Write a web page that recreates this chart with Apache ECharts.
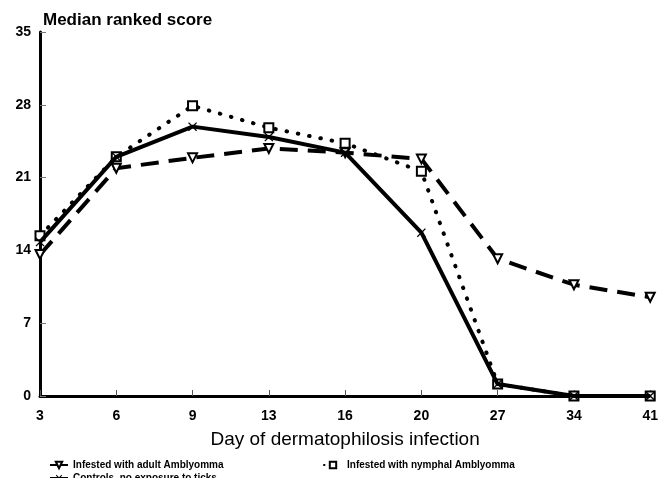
<!DOCTYPE html>
<html><head><meta charset="utf-8">
<script src="https://cdn.jsdelivr.net/npm/echarts@6/dist/echarts.min.js"></script>
<style>html,body{margin:0;padding:0;background:#fff}#c{width:661px;height:478px}</style>
</head><body><div id="c"></div>
<script>
const days = ['3','6','9','13','16','20','27','34','41'];
const adult = [13.6, 21.9, 22.9, 23.8, 23.4, 22.8, 13.2, 10.7, 9.5];
const nymphal = [15.4, 23.0, 27.9, 25.8, 24.3, 21.6, 1.15, 0, 0];
const controls = [14.8, 23.0, 25.9, 24.9, 23.4, 15.7, 1.15, 0, 0];
const yTicks = [0, 7, 14, 21, 28, 35];

const font = 'Liberation Sans, Arial, sans-serif';
const crossPath = 'path://M0,1 L1,0 L5,4 L9,0 L10,1 L6,5 L10,9 L9,10 L5,6 L1,10 L0,9 L4,5 Z';
const legText = {fontFamily: font, fontSize: 10, fontWeight: 'bold', color: '#000'};

const chart = echarts.init(document.getElementById('c'));
chart.setOption({
  animation: false,
  backgroundColor: '#fff',
  title: {
    text: 'Median ranked score', left: 38, top: 7,
    textStyle: {fontFamily: font, fontSize: 17, fontWeight: 'bold', color: '#000'}
  },
  grid: {left: 40, right: 10, top: 32, bottom: 82, containLabel: false},
  legend: [
    {data: ['Infested with adult Amblyomma'], left: 44, top: 455, itemWidth: 18, itemHeight: 8, itemGap: 2, textStyle: legText},
    {data: ['Controls, no exposure to ticks'], left: 44, top: 468, itemWidth: 18, itemHeight: 8, itemGap: 2, textStyle: legText},
    {data: ['Infested with nymphal Amblyomma'], left: 318, top: 455, itemWidth: 18, itemHeight: 8, itemGap: 2, textStyle: legText}
  ],
  xAxis: {
    type: 'category', data: days, boundaryGap: false,
    name: 'Day of dermatophilosis infection', nameLocation: 'middle', nameGap: 34,
    nameTextStyle: {fontFamily: font, fontSize: 19, color: '#000'},
    axisLine: {lineStyle: {color: '#000', width: 3}},
    axisTick: {inside: true, length: 6, lineStyle: {color: '#555', width: 1}},
    axisLabel: {fontFamily: font, fontSize: 14, fontWeight: 'bold', color: '#000', margin: 13},
    splitLine: {show: false}
  },
  yAxis: {
    type: 'value', min: 0, max: 35, interval: 7,
    axisLine: {show: true, lineStyle: {color: '#000', width: 3}},
    axisTick: {show: true, inside: true, length: 6, lineStyle: {color: '#777', width: 1}},
    axisLabel: {fontFamily: font, fontSize: 14, fontWeight: 'bold', color: '#000', margin: 9,
      formatter: v => yTicks.includes(v) ? String(v) : ''},
    splitLine: {show: false}
  },
  series: [
    {name: 'Infested with adult Amblyomma', type: 'line', data: adult, z: 3,
     symbol: 'emptyTriangle', symbolRotate: 180, symbolSize: 9, showAllSymbol: true,
     lineStyle: {color: '#000', width: 4, type: [18, 10]},
     itemStyle: {color: '#000', borderWidth: 1}},
    {name: 'Infested with nymphal Amblyomma', type: 'line', data: nymphal, z: 4,
     symbol: 'emptyRect', symbolSize: 9, showAllSymbol: true,
     lineStyle: {color: '#000', width: 4, type: [0.5, 11], cap: 'round'},
     itemStyle: {color: '#000', borderWidth: 1}},
    {name: 'Controls, no exposure to ticks', type: 'line', data: controls, z: 5,
     symbol: crossPath, symbolSize: 9, showAllSymbol: true,
     lineStyle: {color: '#000', width: 4},
     itemStyle: {color: '#000'}}
  ]
});
</script></body></html>
